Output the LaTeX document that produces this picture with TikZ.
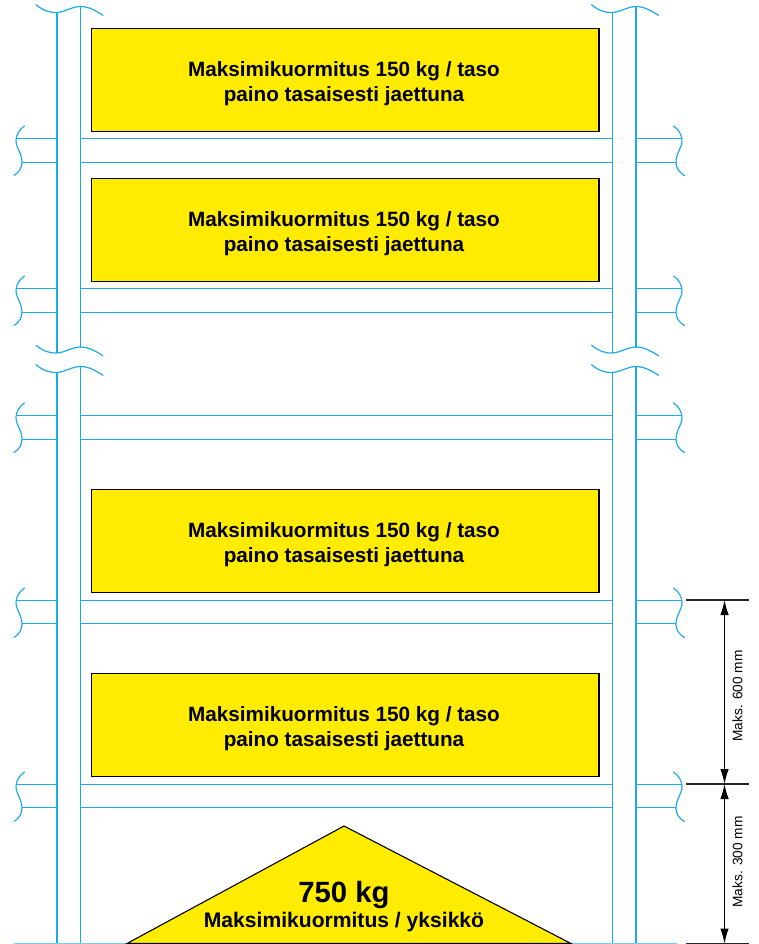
\documentclass[tikz,border=0pt]{standalone}
\usepackage{fontspec}
\setmainfont{Liberation Sans}
\usetikzlibrary{arrows.meta}
\definecolor{rack}{HTML}{1EA9EA}
\definecolor{load}{HTML}{FFEC00}
\tikzset{
  rackline/.style={draw=rack,line width=1.5pt},
  wave/.style={draw=rack,line width=1.2pt,line cap=round},
  loadbox/.style={draw=black,fill=load,line width=1.1pt,minimum width=507.5pt,minimum height=103pt,inner sep=0pt},
  loadtext/.style={inner sep=0pt,align=center,font=\fontsize{20.7}{25}\selectfont\bfseries},
  dimline/.style={draw=black!85,line width=1.1pt},
  dimarrow/.style={draw=black,line width=1.1pt,{Latex[length=15pt,width=8.5pt]}-{Latex[length=15pt,width=8.5pt]}},
  dimtext/.style={rotate=90,inner sep=0pt,font=\fontsize{13.7}{15}\selectfont},
  wtop/.pic={\draw[wave] (-21,-7.8) .. controls (-14,-2) and (-7,0.5) .. (0,0) .. controls (8,-0.5) and (15,-6) .. (24,-6) .. controls (32,-6) and (40,-1) .. (46,2.8);},
  wsideL/.pic={\draw[wave] (8.5,-12.5) .. controls (3,-9) and (0,-3) .. (0,2) .. controls (0,10) and (6,14) .. (6,24) .. controls (6,29) and (3,34) .. (-2,37);},
  wsideR/.pic={\draw[wave] (-8.5,-12.5) .. controls (-3,-9) and (0,-3) .. (0,2) .. controls (0,10) and (-6,14) .. (-6,24) .. controls (-6,29) and (-3,34) .. (2.5,37);}
}
\newcommand{\beampair}[2]{%
  \draw[rackline] (17,#1) -- (57,#1) (80.5,#1) -- (612.5,#1) (636,#1) -- (682,#1);
  \draw[rackline] (22,#2) -- (57,#2) (80.5,#2) -- (612.5,#2) (636,#2) -- (676,#2);
  \pic at (16,#1) {wsideL};
  \pic at (682,#1) {wsideR};
}
\newcommand{\loadat}[2]{%
  \node[loadbox] (#1) at (345.2,#2) {};
  \node[loadtext] (#1t) at (344,#2+3.3) {Maksimikuormitus 150 kg / taso\\paino tasaisesti jaettuna};
}
\begin{document}
\begin{tikzpicture}[x=1pt,y=-1pt]
\useasboundingbox (0,0) rectangle (758,944);
% posts
\draw[rackline] (57,12.5) -- (57,353) (80.5,7) -- (80.5,347.5);
\draw[rackline] (612.5,12.5) -- (612.5,353) (636,7) -- (636,347.5);
\draw[rackline] (57,372.5) -- (57,944) (80.5,367) -- (80.5,944);
\draw[rackline] (612.5,372.5) -- (612.5,944) (636,367) -- (636,944);
% breaks
\foreach \xx in {57,612.5} \foreach \yy in {12.5,353,372.5} \pic at (\xx,\yy) {wtop};
% beams
\beampair{138.5}{162.5}
\beampair{288.5}{312.5}
\beampair{415.5}{439.5}
\beampair{600.5}{623.5}
\beampair{784.5}{807.5}
\draw[draw=rack!60,line width=1.25pt] (14,943.5) -- (677,943.5);
% loads
\loadat{b1}{80}
\loadat{b2}{230}
\loadat{b3}{541}
\loadat{b4}{725}
% triangle
\draw[draw=black,fill=load,line width=1.1pt] (127,943.5) -- (344,826) -- (571,943.5) -- cycle;
\node[inner sep=0pt,anchor=base,font=\fontsize{29.3}{30}\selectfont\bfseries] (t1) at (344,902.7) {750 kg};
\node[inner sep=0pt,anchor=base,font=\fontsize{21.1}{22}\selectfont\bfseries] (t2) at (344,927.3) {Maksimikuormitus / yksikkö};
% dimensions
\coordinate (d1) at (724.5,600);
\coordinate (d2) at (724.5,784);
\coordinate (d3) at (724.5,943.5);
\draw[dimline] (686,600) -- (749,600) (686,784) -- (749,784) (686,943.5) -- (749,943.5);
\draw[dimarrow] (d1) -- (d2);
\draw[dimarrow] (d2) -- (d3);
\node[dimtext] (m1) at (737.5,696) {Maks. 600 mm};
\node[dimtext] (m2) at (737.5,862) {Maks. 300 mm};
\end{tikzpicture}
\end{document}
